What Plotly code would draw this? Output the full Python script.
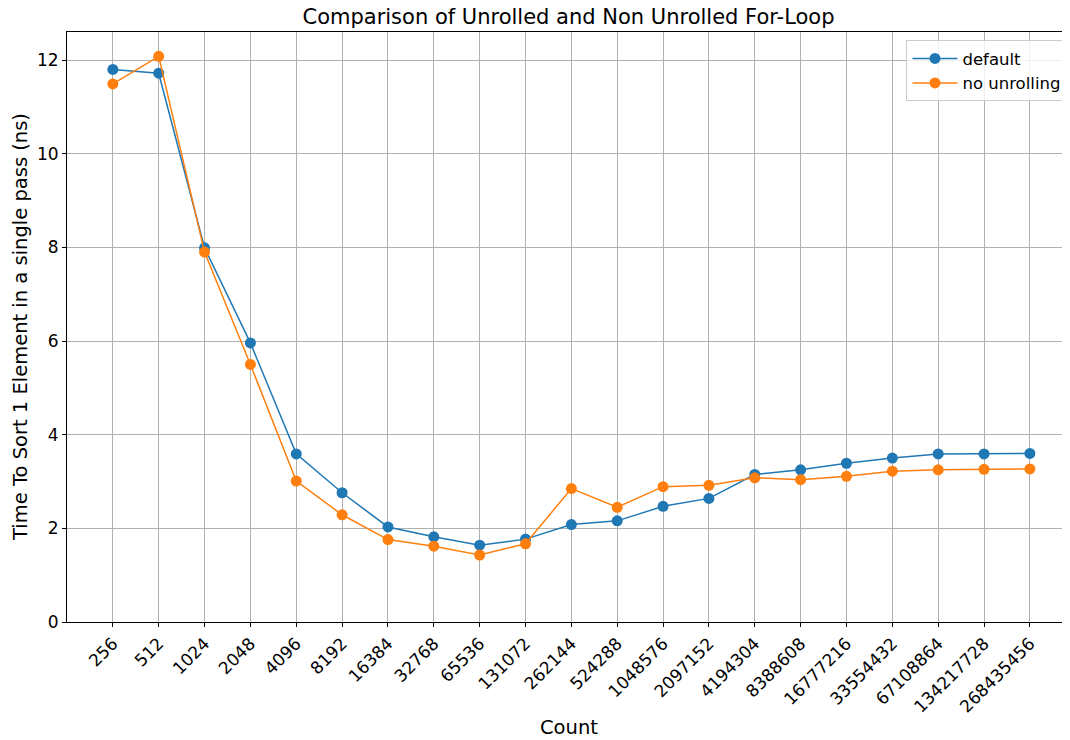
import plotly.graph_objects as go

counts = ["256", "512", "1024", "2048", "4096", "8192", "16384", "32768", "65536",
          "131072", "262144", "524288", "1048576", "2097152", "4194304", "8388608",
          "16777216", "33554432", "67108864", "134217728", "268435456"]
default_ns = [11.80, 11.72, 7.99, 5.96, 3.59, 2.76, 2.03, 1.82, 1.64, 1.77, 2.08, 2.16,
              2.47, 2.64, 3.15, 3.25, 3.39, 3.50, 3.59, 3.59, 3.60]
no_unroll_ns = [11.49, 12.08, 7.90, 5.50, 3.01, 2.29, 1.76, 1.62, 1.43, 1.67, 2.85, 2.45,
                2.89, 2.92, 3.08, 3.04, 3.11, 3.22, 3.25, 3.26, 3.27]

xi = list(range(len(counts)))
font = "DejaVu Sans, Verdana, sans-serif"

# page body has an 8px default margin, so the figure is sized to fill the rest
W, H = 1062, 732

fig = go.Figure()
fig.add_trace(go.Scatter(x=xi, y=default_ns, mode="lines+markers", name="default",
                         line=dict(color="#1f77b4", width=1.5),
                         marker=dict(size=11, color="#1f77b4")))
fig.add_trace(go.Scatter(x=xi, y=no_unroll_ns, mode="lines+markers", name="no unrolling",
                         line=dict(color="#ff7f0e", width=1.5),
                         marker=dict(size=11, color="#ff7f0e")))

fig.update_layout(
    width=W, height=H,
    margin=dict(l=59, r=0, t=24, b=118, autoexpand=False),
    paper_bgcolor="white", plot_bgcolor="white",
    font=dict(family=font, size=17, color="black"),
    title=dict(text="Comparison of Unrolled and Non Unrolled For-Loop",
               x=0.5, xanchor="center", xref="paper",
               y=1 - 9 / H, yanchor="middle", yref="container",
               font=dict(size=21, family=font)),
    xaxis=dict(
        tickmode="array", tickvals=xi, ticktext=counts, tickangle=-45,
        range=[-1, 20.875], showgrid=True, gridcolor="#b0b0b0", gridwidth=1,
        zeroline=False, showline=True, linecolor="black", linewidth=1, mirror=True,
        ticks="outside", ticklen=4, tickcolor="black", automargin=False,
        tickfont=dict(size=17),
    ),
    yaxis=dict(
        range=[0, 12.6], tickvals=[0, 2, 4, 6, 8, 10, 12],
        showgrid=True, gridcolor="#b0b0b0", gridwidth=1,
        zeroline=False, showline=True, linecolor="black", linewidth=1, mirror=True,
        ticks="outside", ticklen=4, tickcolor="black", automargin=False,
        tickfont=dict(size=17),
    ),
    legend=dict(x=0.9965, y=0.986, xanchor="right", yanchor="top",
                bgcolor="rgba(255,255,255,0.8)", bordercolor="#cccccc", borderwidth=1,
                font=dict(size=16.5), itemwidth=45),
    showlegend=True,
    annotations=[
        dict(text="Count", xref="paper", yref="paper", x=0.5, xanchor="center",
             y=-(719 - (H - 118)) / (H - 24 - 118), yanchor="middle",
             showarrow=False, font=dict(size=19.5)),
        dict(text="Time To Sort 1 Element in a single pass (ns)", textangle=-90,
             xref="paper", yref="paper", x=-(59 - 12) / (W - 59), xanchor="center",
             y=0.5, yanchor="middle", showarrow=False, font=dict(size=19.5)),
    ],
)

fig.write_html("out.html")
